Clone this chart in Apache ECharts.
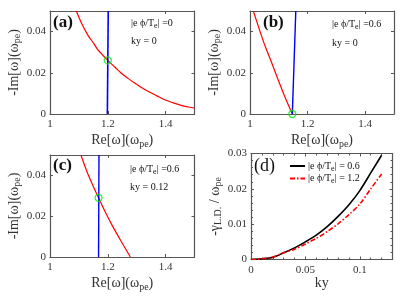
<!DOCTYPE html>
<html>
<head>
<meta charset="utf-8">
<script src="https://cdn.jsdelivr.net/npm/echarts@6/dist/echarts.min.js"></script>
<style>html,body{margin:0;padding:0;background:#fff;}#c{width:407px;height:297px;}</style>
</head>
<body>
<div id="c"></div>
<script>
// ---- data ----
const panelARed = [[1.091,0.050],[1.11,0.0438],[1.131,0.0383],[1.15,0.0345],[1.166,0.0311],[1.183,0.0285],[1.2,0.026],[1.225,0.0227],[1.247,0.0198],[1.27,0.0173],[1.293,0.0150],[1.315,0.0130],[1.339,0.0110],[1.37,0.0088],[1.397,0.0069],[1.425,0.0055],[1.454,0.0042],[1.48,0.0034],[1.5,0.0029]];
const panelABlue = [[1.1985,0],[1.2015,0.05]];
const panelAPoint = [[1.2,0.026]];
const panelBRed = [[1.0115,0.05],[1.035,0.04],[1.055,0.032],[1.075,0.025],[1.098,0.0165],[1.122,0.008],[1.147,0]];
const panelBBlue = [[1.147,0],[1.159,0.05]];
const panelBPoint = [[1.147,0]];
const panelCRed = [[1.107,0.05],[1.128,0.0418],[1.148,0.0352],[1.168,0.029],[1.19,0.0224],[1.215,0.0155],[1.245,0.0080],[1.278,0]];
const panelCBlue = [[1.168,0],[1.1695,0.05]];
const panelCPoint = [[1.168,0.029]];
const kyValues = [0,0.01,0.02,0.03,0.04,0.05,0.06,0.07,0.08,0.09,0.1,0.11,0.12];
const gammaPhi06 = [0,0.0002,0.0006,0.0019,0.0033,0.0050,0.0069,0.0093,0.0122,0.0155,0.0195,0.0245,0.0295];
const gammaPhi12 = [0,0.0002,0.0007,0.0019,0.0029,0.0044,0.0060,0.0079,0.0101,0.0127,0.0157,0.0200,0.0242];
const reTicks = {min:1, max:1.5, interval:0.2};
const imTicks = {min:0, max:0.05, interval:0.02};
const kyTicks = {min:0, max:0.13, interval:0.05};
const gTicks = {min:0, max:0.03, interval:0.01};

// ---- styling ----
const serif = '"Liberation Serif","Times New Roman",serif';
const axisColor = '#555';
const labelColor = '#333';
const subRich = {sub:{fontSize:10, fontFamily:serif, color:'#333', padding:[7,0,0,0]}};
const grids = [
  {left:50, top:11, width:144.5, height:103},
  {left:250, top:11, width:144, height:103},
  {left:50, top:155, width:144.5, height:102},
  {left:251, top:153.5, width:141.5, height:106}
];

const xAxes = [], yAxes = [];
function addAxes(gi, xs, ys, xName, yName, xGap, yGap, minor, hideXMax, hideYMax){
  const common = {
    type:'value', gridIndex:gi, splitLine:{show:false},
    axisLine:{show:true, onZero:false, lineStyle:{color:axisColor, width:1.2}},
    axisTick:{show:true, inside:true, length:3, lineStyle:{color:axisColor}},
    minorTick:{show:minor, splitNumber:5, length:2, lineStyle:{color:axisColor}}
  };
  xAxes.push(Object.assign({}, common, xs, {
    position:'bottom',
    axisLabel:{color:labelColor, fontFamily:serif, fontSize:11, margin:5, showMaxLabel:!hideXMax},
    name:xName, nameLocation:'middle', nameGap:xGap,
    nameTextStyle:{fontFamily:serif, fontSize:14, color:'#333', rich:subRich}
  }));
  xAxes.push(Object.assign({}, common, xs, {position:'top', axisLabel:{show:false}}));
  yAxes.push(Object.assign({}, common, ys, {
    position:'left',
    axisLabel:{color:labelColor, fontFamily:serif, fontSize:11, margin:4, showMaxLabel:!hideYMax},
    name:yName, nameLocation:'middle', nameGap:yGap,
    nameTextStyle:{fontFamily:serif, fontSize:14, color:'#333', rich:subRich}
  }));
  yAxes.push(Object.assign({}, common, ys, {position:'right', axisLabel:{show:false}}));
}
const reName = 'Re[ω](ω{sub|pe})';
const imName = '-Im[ω](ω{sub|pe})';
addAxes(0, reTicks, imTicks, reName, imName, 18, 19, false, true, true);
addAxes(1, reTicks, imTicks, reName, imName, 18, 19, false, true, true);
addAxes(2, reTicks, imTicks, reName, imName, 18, 19, false, true, true);
addAxes(3, kyTicks, gTicks, 'ky', '-γ{sub|L.D.} / ω{sub|pe}', 17, 24, true, true, false);

function lineS(gi, data, color, width, type, smooth){
  return {type:'line', xAxisIndex:gi*2, yAxisIndex:gi*2, data:data, symbol:'none', showSymbol:false, smooth:smooth||false,
    lineStyle:{color:color, width:width, type:type||'solid'}, itemStyle:{color:color, opacity:0}, animation:false, clip:true};
}
function pointS(gi, data){
  return {type:'scatter', xAxisIndex:gi*2, yAxisIndex:gi*2, data:data, symbol:'circle', symbolSize:7, clip:false, z:5,
    itemStyle:{color:'rgba(0,0,0,0)', borderColor:'#00ee00', borderWidth:1.3}, animation:false};
}
const series = [
  lineS(0, panelARed, '#ff0000', 1.2, 'solid', 0.3),
  lineS(0, panelABlue, '#0000ff', 1.6),
  pointS(0, panelAPoint),
  lineS(1, panelBRed, '#ff0000', 1.2, 'solid', 0.3),
  lineS(1, panelBBlue, '#0000ff', 1.4),
  pointS(1, panelBPoint),
  lineS(2, panelCRed, '#ff0000', 1.2, 'solid', 0.3),
  lineS(2, panelCBlue, '#0000ff', 1.4),
  pointS(2, panelCPoint),
  Object.assign(lineS(3, kyValues.map((k,i)=>[k,gammaPhi06[i]]), '#000000', 1.6, 'solid', 0.3), {name:'phi06'}),
  Object.assign(lineS(3, kyValues.map((k,i)=>[k,gammaPhi12[i]]), '#ff0000', 1.6, [5,2,1.5,2], 0.3), {name:'phi12', z:3})
];

function txt(x, y, text, size, weight){
  return {type:'text', x:x, y:y, z:10, style:{text:text, fill:'#111', font:(weight||'normal')+' '+size+'px '+serif,
    align:'left', verticalAlign:'middle', rich:{sub:{fontSize:8, fontFamily:serif, fill:'#111', padding:[5,0,0,0]}}}};
}
const graphic = [
  txt(53, 23, '(a)', 17, 'bold'),
  txt(131, 23, '|e ϕ/T{sub|e}| =0', 10),
  txt(131, 41, 'ky = 0', 10),
  txt(263, 23, '(b)', 17, 'bold'),
  txt(332, 24, '|e ϕ/T{sub|e}| =0.6', 10),
  txt(332, 43, 'ky = 0', 10),
  txt(53, 166, '(c)', 17, 'bold'),
  txt(130, 169.5, '|e ϕ/T{sub|e}| =0.6', 10),
  txt(130, 187, 'ky = 0.12', 10),
  txt(254, 166, '(d)', 18, 'normal')
];

const chart = echarts.init(document.getElementById('c'), null, {renderer:'canvas'});
chart.setOption({
  animation:false,
  backgroundColor:'#fff',
  grid:grids,
  xAxis:xAxes,
  yAxis:yAxes,
  series:series,
  graphic:graphic,
  legend:{
    data:['phi06','phi12'], orient:'vertical', left:284, top:156, itemWidth:15, itemHeight:8, itemGap:1,
    itemStyle:{opacity:0},
    formatter:function(n){ return n==='phi06' ? '|e ϕ/T{sub|e}| = 0.6' : '|e ϕ/T{sub|e}| = 1.2'; },
    textStyle:{fontFamily:serif, fontSize:10, color:'#111', padding:[0,0,0,-2],
      rich:{sub:{fontSize:8, fontFamily:serif, color:'#111', padding:[5,0,0,0]}}},
    selectedMode:false
  }
});
</script>
</body>
</html>
